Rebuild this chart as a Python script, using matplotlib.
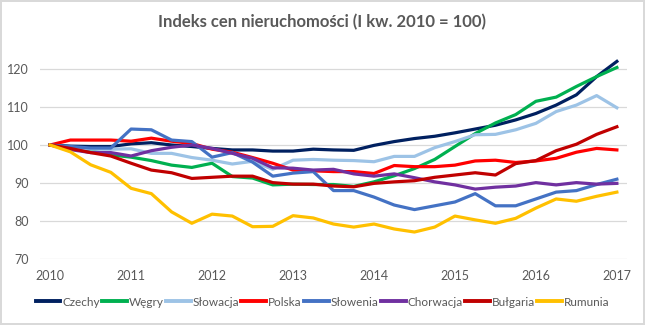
import matplotlib
matplotlib.use("Agg")
import matplotlib.pyplot as plt

plt.rcParams["font.family"] = ["Lato", "DejaVu Sans"]

# kwartaly od I kw. 2010 do I kw. 2017
years = ["2010", "2011", "2012", "2013", "2014", "2015", "2016", "2017"]

czechy = [100, 99.7, 99.6, 99.6, 100.3, 100.6, 100.0, 99.6, 99.1, 98.7, 98.7, 98.4, 98.4,
          98.9, 98.7, 98.6, 99.9, 100.9, 101.7, 102.3, 103.2, 104.2, 105.2, 106.6, 108.3,
          110.5, 113.2, 118.0, 122.0]
wegry = [100, 99.4, 98.5, 97.4, 96.8, 95.9, 94.7, 94.1, 95.2, 91.7, 91.3, 89.5, 89.7,
         89.6, 89.6, 89.1, 90.3, 91.9, 93.8, 96.2, 99.6, 103.0, 105.8, 108.0, 111.5,
         112.6, 115.4, 118.0, 120.4]
slowacja = [100, 99.3, 98.9, 98.9, 99.0, 97.8, 97.8, 96.7, 96.0, 95.0, 95.7, 93.6, 96.0,
            96.2, 96.0, 95.9, 95.6, 97.0, 97.0, 99.3, 100.9, 102.7, 102.8, 104.0, 105.7,
            108.8, 110.5, 113.0, 109.8]
polska = [100, 101.3, 101.3, 101.3, 101.0, 101.8, 101.0, 100.4, 98.9, 98.1, 96.7, 95.2,
          93.4, 93.2, 93.0, 93.0, 92.5, 94.6, 94.3, 94.3, 94.7, 95.8, 96.0, 95.4, 95.8,
          96.5, 98.1, 99.1, 98.7]
slowenia = [100, 99.6, 99.2, 99.2, 104.2, 104.0, 101.3, 100.9, 96.8, 98.0, 95.5, 91.8,
            92.6, 93.0, 88.0, 88.0, 86.3, 84.2, 83.0, 84.0, 85.0, 87.2, 84.0, 84.0, 85.8,
            87.6, 88.0, 89.6, 91.0]
chorwacja = [100, 98.8, 98.0, 98.0, 97.1, 98.5, 99.4, 100.0, 99.1, 97.8, 96.5, 94.0,
             93.9, 93.4, 93.6, 92.4, 91.8, 92.4, 91.4, 90.3, 89.5, 88.4, 88.9, 89.2, 90.1,
             89.5, 90.1, 89.7, 89.9]
bulgaria = [100, 99.1, 98.0, 97.1, 95.2, 93.4, 92.7, 91.2, 91.5, 91.8, 91.8, 90.1, 89.7,
            89.7, 89.2, 89.0, 89.9, 90.3, 90.6, 91.5, 92.1, 92.7, 92.1, 95.1, 95.9, 98.5,
            100.2, 102.8, 104.8]
rumunia = [100, 98.2, 94.8, 92.8, 88.6, 87.2, 82.4, 79.4, 81.8, 81.3, 78.5, 78.6, 81.4,
           80.8, 79.2, 78.4, 79.2, 77.9, 77.1, 78.4, 81.3, 80.3, 79.4, 80.7, 83.4, 85.8,
           85.2, 86.5, 87.6]

series = [("Czechy", czechy, "#002060"),
          ("Węgry", wegry, "#00B050"),
          ("Słowacja", slowacja, "#9DC3E6"),
          ("Polska", polska, "#FF0000"),
          ("Słowenia", slowenia, "#4472C4"),
          ("Chorwacja", chorwacja, "#7030A0"),
          ("Bułgaria", bulgaria, "#C00000"),
          ("Rumunia", rumunia, "#FFC000")]

txt = "#595959"
grid = "#d9d9d9"

fig = plt.figure(figsize=(6.45, 3.25), dpi=100, edgecolor=grid, linewidth=1.5)
ax = fig.add_axes([40 / 645, 1 - 259 / 325, 587 / 645, 209 / 325])

x = list(range(len(czechy)))
for name, vals, col in series:
    ax.plot(x, vals, color=col, lw=2.3, label=name, solid_joinstyle="round")

ax.set_xlim(-0.5, 28.5)
ax.set_ylim(70, 125)
ax.set_yticks(range(70, 121, 10))
ax.set_xticks(range(0, 29, 4))
ax.set_xticklabels(years)
ax.tick_params(length=0, colors=txt, labelsize=9)
ax.tick_params(axis="y", pad=8)
ax.tick_params(axis="x", pad=8)
ax.grid(axis="y", color=grid, lw=0.9)
ax.set_axisbelow(True)
for s in ax.spines.values():
    s.set_visible(False)

fig.text(0.5, 1 - 22 / 325, "Indeks cen nieruchomości (I kw. 2010 = 100)",
         ha="center", va="center", fontsize=12, fontweight="bold", color=txt)

leg = fig.legend(loc="center", bbox_to_anchor=(0.5, 1 - 302 / 325), ncol=8,
                 frameon=False, handlelength=2.1, handletextpad=0.15,
                 columnspacing=0.2, labelcolor=txt, fontsize=8.5)
for h in leg.get_lines():
    h.set_linewidth(2.8)

fig.savefig("out.png", dpi=100, edgecolor=fig.get_edgecolor())
